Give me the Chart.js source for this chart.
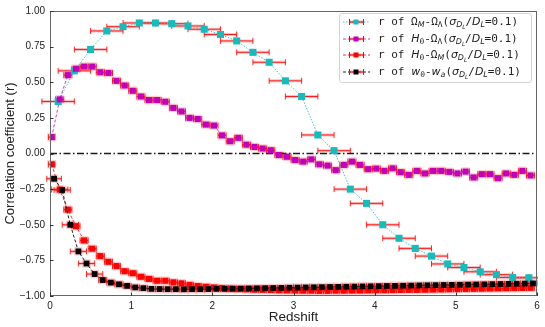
<!DOCTYPE html>
<html><head><meta charset="utf-8">
<script src="https://cdn.jsdelivr.net/npm/chart.js@4"></script>
<style>
html,body{margin:0;padding:0;background:#fff;}
#wrap{position:relative;width:545px;height:327px;}
#legend{position:absolute;left:339px;top:13px;width:193px;height:70px;border:1px solid #d4d4d4;border-radius:3px;background:rgba(255,255,255,0.85);box-sizing:border-box;font-family:'DejaVu Sans Mono',monospace;font-size:11px;color:#222;}
.row{position:absolute;left:3px;height:16px;line-height:16px;white-space:nowrap;}
.row svg{position:absolute;left:0;top:3px;}
.row .t{position:absolute;left:35px;top:0;}
.m{font-family:'DejaVu Sans',sans-serif;font-style:italic;}
sub{font-size:72%;vertical-align:-0.3em;line-height:0;}
</style>
</head><body>
<div id="wrap"><canvas id="c" width="545" height="327"></canvas><div id="legend"></div></div>
<script>
// ---- data ----
const zCyan=[0.1,0.3,0.5,0.7,0.9,1.1,1.3,1.5,1.7,1.9,2.1,2.3,2.5,2.7,2.9,3.1,3.3,3.5,3.7,3.9,4.1,4.3,4.5,4.7,4.9,5.1,5.3,5.5,5.7,5.9];
const rCyan=[0.365,0.58,0.73,0.86,0.89,0.916,0.916,0.911,0.895,0.872,0.835,0.79,0.71,0.64,0.51,0.40,0.13,0.02,-0.25,-0.35,-0.50,-0.595,-0.666,-0.72,-0.775,-0.80,-0.83,-0.85,-0.87,-0.872];
const errCyan=[0.2,0.2,0.2,0.2,0.2,0.2,0.2,0.2,0.2,0.2,0.2,0.2,0.2,0.2,0.2,0.2,0.2,0.2,0.2,0.2,0.2,0.2,0.2,0.2,0.2,0.2,0.2,0.2,0.2,0.2];

const zMag=[0.02,0.12,0.22,0.32,0.42,0.52,0.62,0.72,0.82,0.92,1.02,1.12,1.22,1.32,1.42,1.52,1.62,1.72,1.82,1.92,2.02,2.12,2.22,2.32,2.42,2.52,2.62,2.72,2.82,2.92,3.02,3.12,3.22,3.32,3.42,3.52,3.62,3.72,3.82,3.92,4.02,4.12,4.22,4.32,4.42,4.52,4.62,4.72,4.82,4.92,5.02,5.12,5.22,5.32,5.42,5.52,5.62,5.72,5.82,5.92];
const rMag=[0.115,0.38,0.55,0.595,0.61,0.61,0.57,0.565,0.51,0.477,0.44,0.40,0.375,0.375,0.363,0.32,0.295,0.25,0.242,0.203,0.196,0.127,0.086,0.11,0.062,0.046,0.035,0.023,-0.011,-0.023,-0.046,-0.057,-0.041,-0.076,-0.085,-0.117,-0.08,-0.057,-0.08,-0.11,-0.106,-0.122,-0.104,-0.131,-0.15,-0.122,-0.14,-0.122,-0.122,-0.129,-0.14,-0.127,-0.168,-0.145,-0.145,-0.173,-0.14,-0.15,-0.122,-0.154];
const errMag=[0.04,0.05,0.05,0.05,0.05,0.05,0.05,0.05,0.05,0.05,0.05,0.05,0.05,0.05,0.05,0.05,0.05,0.05,0.05,0.05,0.05,0.05,0.05,0.05,0.05,0.05,0.05,0.05,0.05,0.05,0.05,0.05,0.05,0.05,0.05,0.05,0.05,0.05,0.05,0.05,0.05,0.05,0.05,0.05,0.05,0.05,0.05,0.05,0.05,0.05,0.05,0.05,0.05,0.05,0.05,0.05,0.05,0.05,0.05,0.05];

const zRed=[0.02,0.12,0.22,0.32,0.42,0.52,0.62,0.72,0.82,0.92,1.02,1.12,1.22,1.32,1.42,1.52,1.62,1.72,1.82,1.92,2.02,2.12,2.22,2.32,2.42,2.52,2.62,2.72,2.82,2.92,3.02,3.12,3.22,3.32,3.42,3.52,3.62,3.72,3.82,3.92,4.02,4.12,4.22,4.32,4.42,4.52,4.62,4.72,4.82,4.92,5.02,5.12,5.22,5.32,5.42,5.52,5.62,5.72,5.82,5.92];
const rRed=[-0.076,-0.253,-0.394,-0.51,-0.61,-0.668,-0.72,-0.76,-0.79,-0.826,-0.84,-0.865,-0.88,-0.893,-0.893,-0.904,-0.911,-0.922,-0.93,-0.935,-0.94,-0.944,-0.948,-0.951,-0.953,-0.956,-0.957,-0.958,-0.96,-0.961,-0.962,-0.963,-0.963,-0.964,-0.964,-0.963,-0.963,-0.962,-0.962,-0.961,-0.96,-0.96,-0.959,-0.958,-0.957,-0.957,-0.956,-0.955,-0.954,-0.953,-0.952,-0.951,-0.95,-0.949,-0.948,-0.947,-0.946,-0.945,-0.944,-0.943];
const errRed=[0.04,0.1,0.05,0.05,0.05,0.05,0.05,0.05,0.05,0.05,0.05,0.05,0.05,0.05,0.05,0.05,0.05,0.05,0.05,0.05,0.05,0.05,0.05,0.05,0.05,0.05,0.05,0.05,0.05,0.05,0.05,0.05,0.05,0.05,0.05,0.05,0.05,0.05,0.05,0.05,0.05,0.05,0.05,0.05,0.05,0.05,0.05,0.05,0.05,0.05,0.05,0.05,0.05,0.05,0.05,0.05,0.05,0.05,0.05,0.05];

const zBlk=[0.05,0.15,0.25,0.35,0.45,0.55,0.65,0.75,0.85,0.95,1.05,1.15,1.25,1.35,1.45,1.55,1.65,1.75,1.85,1.95,2.05,2.15,2.25,2.35,2.45,2.55,2.65,2.75,2.85,2.95,3.05,3.15,3.25,3.35,3.45,3.55,3.65,3.75,3.85,3.95,4.05,4.15,4.25,4.35,4.45,4.55,4.65,4.75,4.85,4.95,5.05,5.15,5.25,5.35,5.45,5.55,5.65,5.75,5.85,5.95];
const rBlk=[-0.177,-0.256,-0.50,-0.687,-0.772,-0.846,-0.888,-0.906,-0.918,-0.929,-0.94,-0.945,-0.95,-0.951,-0.952,-0.952,-0.953,-0.952,-0.952,-0.951,-0.95,-0.95,-0.949,-0.948,-0.947,-0.946,-0.945,-0.944,-0.943,-0.942,-0.941,-0.94,-0.939,-0.938,-0.937,-0.936,-0.935,-0.934,-0.933,-0.932,-0.931,-0.93,-0.929,-0.928,-0.927,-0.926,-0.925,-0.924,-0.923,-0.922,-0.921,-0.92,-0.919,-0.918,-0.917,-0.916,-0.915,-0.914,-0.913,-0.912];
const errBlk=[0.09,0.1,0.1,0.1,0.1,0.1,0.05,0.05,0.05,0.05,0.05,0.05,0.05,0.05,0.05,0.05,0.05,0.05,0.05,0.05,0.05,0.05,0.05,0.05,0.05,0.05,0.05,0.05,0.05,0.05,0.05,0.05,0.05,0.05,0.05,0.05,0.05,0.05,0.05,0.05,0.05,0.05,0.05,0.05,0.05,0.05,0.05,0.05,0.05,0.05,0.05,0.05,0.05,0.05,0.05,0.05,0.05,0.05,0.05,0.05];

const xTicks=[0,1,2,3,4,5,6];
const yTicks=[-1,-0.75,-0.5,-0.25,0,0.25,0.5,0.75,1];
const tail='(<span class="m">σ</span><sub><span class="m">D</span><sub class="m">L</sub></sub>/<span class="m">D</span><sub class="m">L</sub>=0.1)';
const legendLabels=[
 'r of Ω<sub class="m">M</sub>-Ω<sub>Λ</sub>'+tail,
 'r of <span class="m">H</span><sub>0</sub>-Ω<sub>Λ</sub>'+tail,
 'r of <span class="m">H</span><sub>0</sub>-Ω<sub class="m">M</sub>'+tail,
 'r of <span class="m">w</span><sub>0</sub>-<span class="m">w</span><sub class="m">a</sub>'+tail
];
const colors=['#12bdbd','#bf00bf','#ff0000','#000000'];
const lineColors=['#3cc8c8','#c33cc3','#ff3030','#202020'];

function pts(z,r){return z.map((v,i)=>({x:v,y:r[i]}));}

const series=[[zCyan,rCyan,errCyan],[zMag,rMag,errMag],[zRed,rRed,errRed],[zBlk,rBlk,errBlk]];
const dashes=[[1.5,1.5],[3,2],[3,2],[3,2]];
const radii=[5,4.3,4.3,4.1];
const orders=[4,3,2,1];
const datasets=series.map((s,i)=>({
  label:'s'+i, data:pts(s[0],s[1]), xerr:s[2], showLine:true,
  borderColor:lineColors[i], borderWidth:1, borderDash:dashes[i],
  pointStyle:'rect', pointRadius:radii[i], pointBackgroundColor:colors[i], pointBorderWidth:0,
  pointHoverRadius:radii[i], order:orders[i], halo:i>0
}));
datasets.push({label:'zero',data:[{x:0,y:0},{x:6,y:0}],showLine:true,borderColor:'#1a1a1a',borderWidth:1.3,borderDash:[7,2.5,1.5,2.5],pointRadius:0,order:10});

const errPlugin={
  id:'err',
  beforeDatasetsDraw(chart){
    const ctx=chart.ctx,xs=chart.scales.x,ys=chart.scales.y,a=chart.chartArea;
    ctx.save();
    ctx.beginPath();ctx.rect(0,a.top-6,a.right+1,a.bottom-a.top+12);ctx.clip();
    chart.data.datasets.forEach(ds=>{
      if(!ds.xerr)return;
      ds.data.forEach((p,i)=>{
        const e=ds.xerr[i];
        const x1=xs.getPixelForValue(p.x-e),x2=xs.getPixelForValue(p.x+e),y=ys.getPixelForValue(p.y);
        if(ds.halo){
          ctx.fillStyle='rgba(255,90,90,0.3)';
          ctx.fillRect(xs.getPixelForValue(p.x)-4.3,y-4.3,8.6,8.6);
        }
        ctx.strokeStyle='rgba(255,80,80,0.38)';ctx.lineWidth=3;
        ctx.beginPath();ctx.moveTo(x1,y);ctx.lineTo(x2,y);ctx.stroke();
        ctx.strokeStyle='rgba(255,0,0,0.85)';ctx.lineWidth=1;
        ctx.beginPath();ctx.moveTo(x1,y);ctx.lineTo(x2,y);
        ctx.moveTo(x1,y-3);ctx.lineTo(x1,y+3);ctx.moveTo(x2,y-3);ctx.lineTo(x2,y+3);ctx.stroke();
      });
    });
    ctx.restore();
  },
  afterDraw(chart){
    const ctx=chart.ctx,xs=chart.scales.x,ys=chart.scales.y,a=chart.chartArea;
    ctx.save();
    ctx.strokeStyle='#666';ctx.lineWidth=1;
    ctx.strokeRect(a.left+0.5,a.top+0.5,a.right-a.left-1,a.bottom-a.top-1);
    ctx.strokeStyle='#333';
    ctx.beginPath();
    xTicks.forEach(v=>{const x=Math.round(xs.getPixelForValue(v))+0.5;ctx.moveTo(x,a.bottom);ctx.lineTo(x,a.bottom-3.5);});
    yTicks.forEach(v=>{const y=Math.round(ys.getPixelForValue(v))+0.5;ctx.moveTo(a.left,y);ctx.lineTo(a.left+3.5,y);});
    ctx.stroke();
    ctx.restore();
  }
};

const fmt=v=>{const s=Math.abs(v).toFixed(2);return v<0?'\u2212'+s:s;};
new Chart(document.getElementById('c'),{
  type:'scatter',
  data:{datasets},
  options:{
    responsive:false,animation:false,devicePixelRatio:1,
    layout:{padding:{left:0,right:8,top:7,bottom:0}},
    plugins:{legend:{display:false},tooltip:{enabled:false}},
    scales:{
      x:{type:'linear',min:0,max:6,
        afterFit(s){s.height=31;},
        afterBuildTicks(s){s.ticks=xTicks.map(v=>({value:v}));},
        grid:{display:false,drawTicks:false},
        border:{display:false},
        ticks:{padding:4,color:'#222',font:{family:'Liberation Sans, Arial',size:10},callback:v=>String(v)},
        title:{display:true,text:'Redshift',color:'#222',font:{family:'Liberation Sans, Arial',size:13.5},padding:{top:0,bottom:2}}
      },
      y:{type:'linear',min:-1,max:1,
        afterFit(s){s.width=50;},
        afterBuildTicks(s){s.ticks=yTicks.map(v=>({value:v}));},
        grid:{display:false,drawTicks:false},
        border:{display:false},
        ticks:{padding:5,color:'#222',font:{family:'Liberation Sans, Arial',size:10},callback:v=>fmt(v)},
        title:{display:true,text:'Correlation coefficient (r)',color:'#222',font:{family:'Liberation Sans, Arial',size:13},padding:{top:3,bottom:0}}
      }
    }
  },
  plugins:[errPlugin]
});

// HTML legend (real text with subscripts)
const lg=document.getElementById('legend');
const rowTops=[0,17,33,50];
legendLabels.forEach((lab,i)=>{
  const d=document.createElement('div');d.className='row';d.style.top=rowTops[i]+'px';
  const dash=dashes[i].join(',');
  d.innerHTML='<svg width="28" height="10"><line x1="0" y1="5" x2="27" y2="5" stroke="'+lineColors[i]+'" stroke-width="1" stroke-dasharray="'+dash+'"/>'+
   '<line x1="6" y1="5" x2="21" y2="5" stroke="rgba(255,80,80,0.4)" stroke-width="3"/>'+
   '<line x1="6" y1="5" x2="21" y2="5" stroke="#f00" stroke-width="1"/>'+
   '<line x1="6.5" y1="2" x2="6.5" y2="8" stroke="#f00" stroke-width="1"/><line x1="20.5" y1="2" x2="20.5" y2="8" stroke="#f00" stroke-width="1"/>'+
   '<rect x="10.5" y="2.5" width="5" height="5" fill="'+colors[i]+'"/></svg><span class="t">'+lab+'</span>';
  lg.appendChild(d);
});
</script>
</body></html>
